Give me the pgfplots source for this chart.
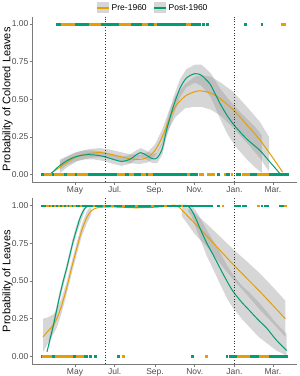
\documentclass[border=0pt]{standalone}
\usepackage{fontspec}
\setmainfont{Liberation Sans}
\usepackage{pgfplots}
\pgfplotsset{compat=1.18}
\definecolor{preC}{HTML}{E69F00}
\definecolor{postC}{HTML}{009E73}
\definecolor{txtg}{HTML}{4D4D4D}
\definecolor{axg}{HTML}{7A7A7A}
\definecolor{ribg}{HTML}{999999}
\definecolor{keyg}{HTML}{D6D6D6}
\pgfplotsset{
 panel/.style={
  scale only axis, width=265pt,
  xmin=55, xmax=462, ymin=-0.05, ymax=1.05,
  axis x line*=bottom, axis y line*=left,
  axis line style={axg, line width=0.6pt},
  xtick={121,182,244,305,366,425},
  xticklabels={May,Jul.,Sep.,Nov.,Jan.,Mar.},
  ytick={0,0.25,0.5,0.75,1},
  /pgf/number format/assume math mode=true,
  yticklabel style={/pgf/number format/fixed, /pgf/number format/fixed zerofill, /pgf/number format/precision=2, font=\fontsize{8.5}{9}\selectfont, text=txtg, inner sep=1pt},
  xticklabel style={font=\fontsize{8.5}{9}\selectfont, text=txtg, inner sep=1.5pt},
  tick align=outside, major tick length=2.5pt,
  tick style={axg, line width=0.6pt},
  ylabel style={font=\fontsize{11}{12}\selectfont, at={(axis description cs:-0.092,0.5)}, anchor=center},
 },
 pts/.style={only marks, mark=square*, mark size=0.8pt, forget plot},
 rib/.style={fill=ribg, fill opacity=0.4, draw=none, forget plot},
 crv/.style={line width=1pt, smooth, forget plot},
 vl/.style={black!80, line width=0.6pt, dash pattern=on 1pt off 1.8pt, forget plot},
}
\begin{document}
\begin{tikzpicture}
\path[use as bounding box] (0pt,0pt) rectangle (300pt,376pt);
% ================= TOP PANEL =================
\begin{axis}[panel, height=165.5pt, at={(32pt,194pt)}, anchor=south west,
  ylabel={Probability of Colored Leaves},
  legend style={at={(axis description cs:0.457,1.052)}, anchor=center, draw opacity=0, fill opacity=0, text opacity=1,
    font=\fontsize{8.5}{9}\selectfont, legend columns=2,
    /tikz/every even column/.append style={column sep=5pt}},
  legend cell align=left]
\addlegendimage{preC, line width=1pt, legend image code/.code={\fill[fill=keyg, fill opacity=1] (0pt,-5.5pt) rectangle (12pt,5.5pt); \fill[fill=preC, fill opacity=1] (0pt,-0.8pt) rectangle (12pt,0.8pt);}}
\addlegendentry{Pre-1960}
\addlegendimage{postC, line width=1pt, legend image code/.code={\fill[fill=keyg, fill opacity=1] (0pt,-5.5pt) rectangle (12pt,5.5pt); \fill[fill=postC, fill opacity=1] (0pt,-0.8pt) rectangle (12pt,0.8pt);}}
\addlegendentry{Post-1960}
% points
\addplot[pts, postC] coordinates {(93,1)(96,1)(99,1)(102,1)(105,1)(108,1)(111,1)(114,1)(117,1)(120,1)(123,1)(126,1)(129,1)(132,1)(135,1)(138,1)(141,1)(144,1)(147,1)(150,1)(153,1)(156,1)(159,1)(162,1)(165,1)(168,1)(171,1)(174,1)(177,1)(180,1)(183,1)(186,1)(189,1)(192,1)(195,1)(198,1)(201,1)(204,1)(207,1)(210,1)(213,1)(216,1)(219,1)(222,1)(225,1)(228,1)(231,1)(234,1)(237,1)(240,1)(243,1)(246,1)(249,1)(252,1)(255,1)(258,1)(261,1)(264,1)(267,1)(270,1)(273,1)(276,1)(279,1)(282,1)(285,1)(288,1)(291,1)(294,1)(297,1)(300,1)(303,1)(306,1)(309,1)(312,1)(318,1)(324,1)(382,1)(408,1)};
\addplot[pts, preC] coordinates {(101,1)(104,1)(107,1)(110,1)(113,1)(116,1)(119,1)(144,1)(147,1)(150,1)(153,1)(156,1)(159,1)(190,1)(193,1)(196,1)(199,1)(202,1)(205,1)(225,1)(228,1)(231,1)(244,1)(293,1)(296,1)(439,1)(441,1)(443,1)};
\addplot[pts, postC] coordinates {(70,0)(73,0)(76,0)(79,0)(82,0)(85,0)(88,0)(91,0)(94,0)(97,0)(100,0)(103,0)(106,0)(109,0)(112,0)(115,0)(118,0)(121,0)(124,0)(127,0)(130,0)(133,0)(136,0)(139,0)(142,0)(145,0)(148,0)(151,0)(154,0)(157,0)(160,0)(163,0)(166,0)(169,0)(172,0)(175,0)(178,0)(181,0)(184,0)(187,0)(190,0)(193,0)(196,0)(199,0)(202,0)(205,0)(208,0)(211,0)(214,0)(217,0)(220,0)(223,0)(226,0)(229,0)(232,0)(235,0)(238,0)(241,0)(244,0)(247,0)(250,0)(253,0)(256,0)(259,0)(262,0)(265,0)(268,0)(271,0)(274,0)(277,0)(280,0)(283,0)(286,0)(289,0)(292,0)(295,0)(298,0)(301,0)(304,0)(307,0)(341,0)(354,0)(357,0)(370,0)(374,0)(390,0)(393,0)(396,0)(399,0)(421,0)(424,0)(427,0)(430,0)(433,0)(436,0)(439,0)(442,0)(445,0)(447,0)};
\addplot[pts, preC] coordinates {(75,0)(79,0)(83,0)(90,0)(94,0)(98,0)(102,0)(110,0)(114,0)(118,0)(126,0)(130,0)(134,0)(138,0)(187,0)(191,0)(195,0)(205,0)(209,0)(224,0)(228,0)(235,0)(239,0)(295,0)(313,0)(317,0)(325,0)(329,0)(333,0)(351,0)(362,0)(379,0)(383,0)(387,0)(402,0)(406,0)(410,0)(413,0)(416,0)};
% ribbons (upper edge left to right, then lower edge right to left)
\addplot[rib] coordinates {(98,0.09)(108,0.115)(125,0.15)(144,0.17)(160,0.175)(175,0.165)(190,0.15)(205,0.135)(221,0.13)(233,0.15)(244,0.20)(255,0.30)(265,0.42)(275,0.52)(290,0.60)(305,0.65)(315,0.66)(330,0.65)(345,0.61)(364,0.55)(385,0.45)(405,0.35)(419,0.25)
 (419,0.02)(405,0.11)(385,0.21)(364,0.31)(345,0.39)(330,0.43)(315,0.45)(305,0.45)(290,0.44)(275,0.38)(265,0.30)(255,0.20)(244,0.12)(233,0.08)(221,0.07)(205,0.075)(190,0.09)(175,0.105)(160,0.115)(144,0.11)(125,0.09)(108,0.045)(98,0.01)} -- cycle;
\addplot[rib] coordinates {(98,0.10)(108,0.12)(120,0.145)(135,0.16)(150,0.16)(165,0.15)(180,0.13)(193,0.117)(205,0.13)(215,0.16)(222,0.175)(230,0.16)(240,0.135)(247,0.145)(255,0.21)(262,0.35)(272,0.51)(282,0.63)(292,0.70)(305,0.73)(315,0.73)(323,0.70)(330,0.67)(344,0.57)(355,0.51)(367,0.45)(385,0.37)(397,0.32)(408,0.26)
 (408,0.01)(397,0.05)(385,0.10)(367,0.19)(355,0.27)(344,0.37)(330,0.51)(323,0.55)(315,0.59)(305,0.61)(292,0.58)(282,0.51)(272,0.39)(262,0.25)(255,0.13)(247,0.075)(240,0.075)(230,0.10)(222,0.115)(215,0.10)(205,0.07)(193,0.057)(180,0.07)(165,0.09)(150,0.10)(135,0.10)(120,0.085)(108,0.06)(98,0.03)} -- cycle;
% curves
\addplot[crv, preC] coordinates {(83,0.005)(95,0.04)(108,0.08)(125,0.12)(144,0.14)(160,0.145)(175,0.135)(190,0.12)(205,0.105)(221,0.10)(233,0.115)(244,0.16)(255,0.25)(265,0.36)(275,0.45)(290,0.52)(305,0.55)(315,0.555)(330,0.54)(345,0.50)(364,0.43)(385,0.33)(405,0.23)(425,0.11)(440,0.015)};
\addplot[crv, postC] coordinates {(83,0.0)(95,0.05)(108,0.09)(120,0.115)(135,0.13)(150,0.13)(165,0.12)(180,0.10)(193,0.087)(205,0.10)(215,0.13)(222,0.145)(230,0.13)(240,0.105)(247,0.11)(255,0.17)(262,0.30)(272,0.45)(282,0.57)(292,0.64)(305,0.67)(315,0.66)(323,0.627)(330,0.59)(344,0.47)(355,0.39)(367,0.32)(385,0.235)(405,0.16)(420,0.085)(436,0.005)};
\addplot[vl] coordinates {(167,-0.05)(167,1.05)};
\addplot[vl] coordinates {(366,-0.05)(366,1.05)};
\end{axis}
% ================= BOTTOM PANEL =================
\begin{axis}[panel, height=166pt, at={(32pt,12pt)}, anchor=south west,
  ylabel={Probability of Leaves}]
\addplot[pts, postC] coordinates {(70,1)(73,1)(76,1)(79,1)(82,1)(85,1)(88,1)(91,1)(94,1)(97,1)(100,1)(103,1)(106,1)(109,1)(112,1)(115,1)(118,1)(121,1)(124,1)(127,1)(130,1)(133,1)(136,1)(139,1)(142,1)(145,1)(148,1)(151,1)(154,1)(157,1)(160,1)(163,1)(166,1)(169,1)(172,1)(175,1)(178,1)(181,1)(184,1)(187,1)(190,1)(193,1)(196,1)(199,1)(202,1)(205,1)(208,1)(211,1)(214,1)(217,1)(220,1)(223,1)(226,1)(229,1)(232,1)(235,1)(238,1)(241,1)(244,1)(247,1)(250,1)(253,1)(256,1)(259,1)(262,1)(265,1)(268,1)(271,1)(274,1)(277,1)(280,1)(283,1)(286,1)(289,1)(292,1)(295,1)(298,1)(301,1)(304,1)(307,1)(310,1)(313,1)(316,1)(319,1)(322,1)(325,1)(328,1)(331,1)(341,1)(367,1)(370,1)(374,1)(379,1)(382,1)(408,1)(413,1)(416,1)(436,1)(439,1)(441,1)(444,1)};
\addplot[pts, preC] coordinates {(78,1)(84,1)(90,1)(96,1)(102,1)(108,1)(114,1)(120,1)(130,1)(150,1)(165,1)(178,1)(195,1)(215,1)(240,1)(260,1)(285,1)(348,1)(402,1)(444,1)};
\addplot[pts, postC] coordinates {(70,0)(73,0)(76,0)(79,0)(82,0)(85,0)(88,0)(91,0)(94,0)(97,0)(100,0)(103,0)(106,0)(109,0)(112,0)(115,0)(118,0)(121,0)(124,0)(127,0)(130,0)(133,0)(136,0)(139,0)(144,0)(152,0)(187,0)(301,0)(354,0)(359,0)(364,0)(367,0)(371,0)(390,0)(394,0)(397,0)(401,0)(416,0)(419,0)(422,0)(425,0)(428,0)(431,0)(434,0)(437,0)(440,0)(443,0)(446,0)};
\addplot[pts, preC] coordinates {(72,0)(76,0)(80,0)(84,0)(92,0)(96,0)(100,0)(104,0)(108,0)(112,0)(116,0)(124,0)(128,0)(132,0)(195,0)(323,0)(371,0)(375,0)(379,0)(383,0)(387,0)(405,0)(409,0)(413,0)(416,0)};
% ribbons
\addplot[rib] coordinates {(72,0.25)(80,0.26)(88,0.28)(93,0.31)(100,0.38)(108,0.49)(116,0.63)(124,0.76)(131,0.87)(139,0.96)(146,1.0)
 (146,0.94)(139,0.88)(131,0.79)(124,0.68)(116,0.55)(108,0.41)(100,0.28)(93,0.19)(88,0.15)(80,0.09)(72,0.03)} -- cycle;
\addplot[rib] coordinates {(81,0.12)(88,0.24)(98,0.44)(108,0.61)(118,0.79)(124,0.88)(130,0.95)(136,1.0)
 (136,0.96)(130,0.89)(124,0.82)(118,0.73)(108,0.55)(98,0.38)(88,0.18)(81,0.06)} -- cycle;
\addplot[rib] coordinates {(285,1.0)(292,0.99)(305,0.95)(323,0.88)(345,0.79)(364,0.71)(385,0.63)(405,0.55)(425,0.46)(444,0.37)
 (444,0.13)(425,0.22)(405,0.31)(385,0.41)(364,0.51)(345,0.61)(323,0.73)(305,0.81)(292,0.89)(285,0.93)} -- cycle;
\addplot[rib] coordinates {(295,1.0)(300,0.995)(306,0.97)(313,0.92)(323,0.84)(333,0.77)(345,0.68)(355,0.60)(364,0.54)(377,0.47)(390,0.42)(403,0.36)(415,0.30)(430,0.22)(446,0.15)
 (446,0.005)(430,0.04)(415,0.09)(403,0.13)(390,0.19)(377,0.25)(364,0.32)(355,0.38)(345,0.47)(333,0.58)(323,0.67)(313,0.78)(306,0.86)(300,0.93)(295,0.96)} -- cycle;
% curves
\addplot[crv, preC] coordinates {(72,0.13)(80,0.17)(88,0.21)(93,0.25)(100,0.33)(108,0.45)(116,0.59)(124,0.72)(131,0.83)(139,0.92)(146,0.965)(155,0.985)(170,0.99)(190,0.99)(215,0.985)(240,0.99)(260,0.995)(277,1.0)(292,0.94)(323,0.80)(364,0.61)(405,0.43)(444,0.25)};
\addplot[crv, postC] coordinates {(78,0.03)(83,0.12)(88,0.21)(93,0.31)(98,0.41)(103,0.50)(108,0.58)(113,0.67)(118,0.76)(124,0.85)(129,0.92)(136,0.98)(142,0.997)(150,1.0)(170,0.995)(200,0.99)(240,0.99)(270,0.998)(292,1.0)(300,0.97)(306,0.92)(313,0.85)(323,0.755)(333,0.675)(345,0.575)(355,0.495)(364,0.43)(377,0.36)(390,0.30)(403,0.24)(415,0.19)(430,0.11)(446,0.04)};
\addplot[vl] coordinates {(167,-0.05)(167,1.05)};
\addplot[vl] coordinates {(366,-0.05)(366,1.05)};
\end{axis}
\end{tikzpicture}
\end{document}
